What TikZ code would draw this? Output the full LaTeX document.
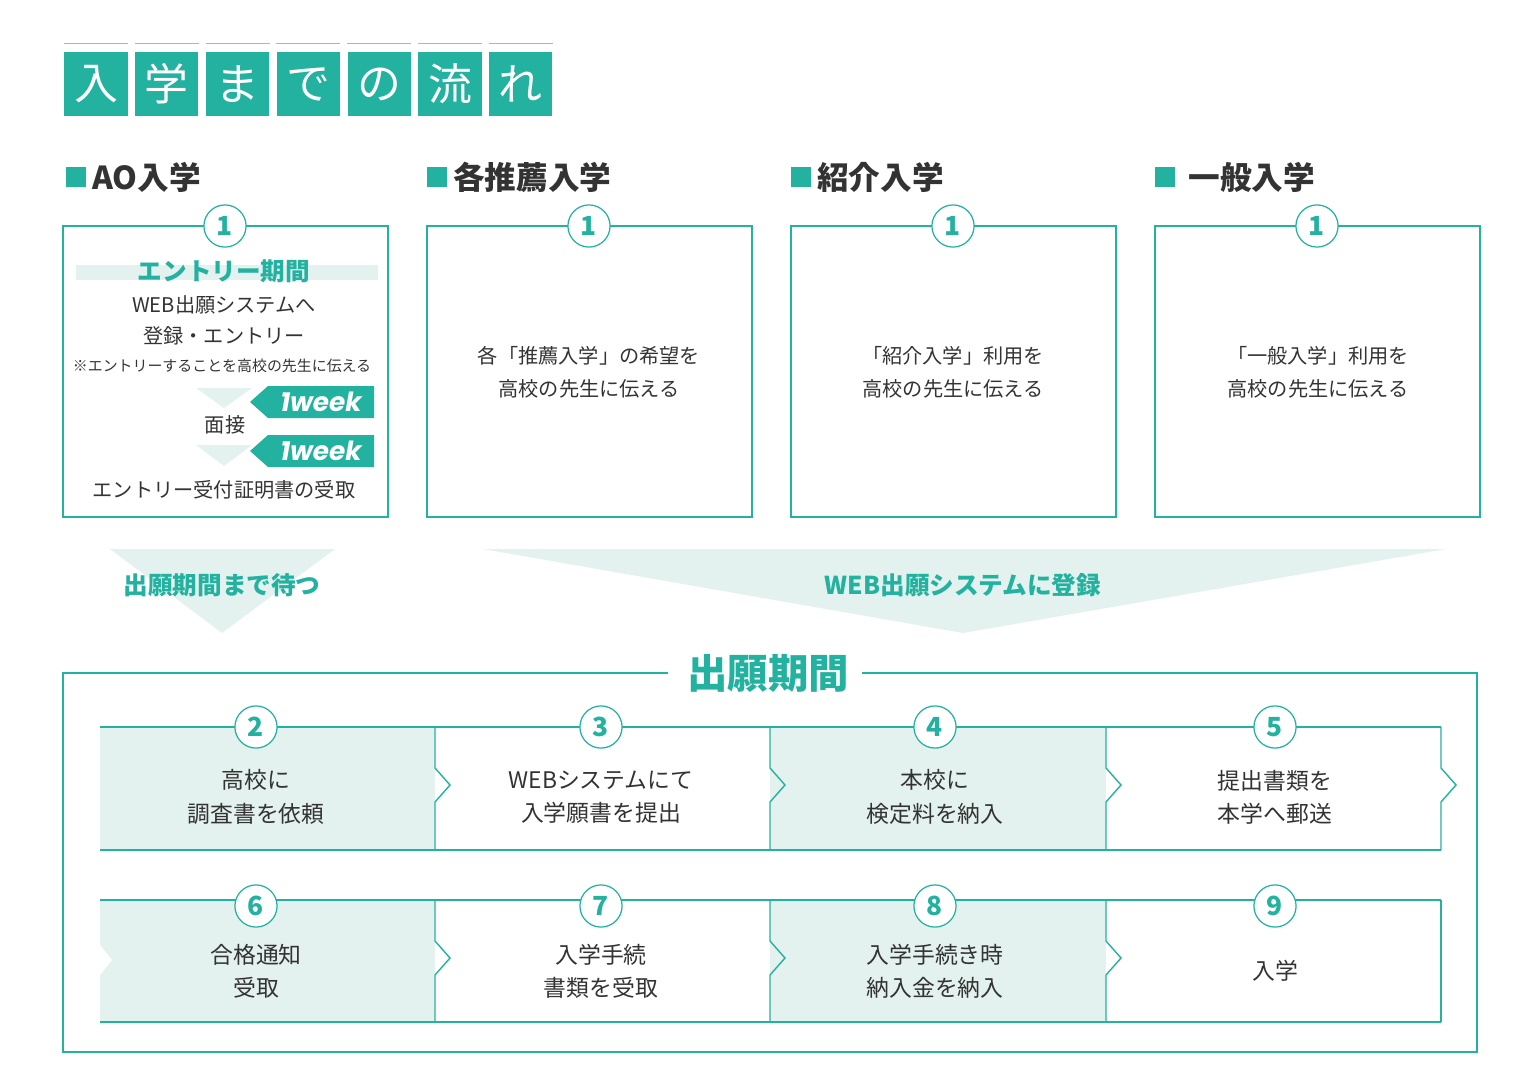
\documentclass[tikz,border=0pt]{standalone}
\usepackage{fontspec}
\setmainfont{Noto Sans CJK JP}
\newfontfamily\lat{Poppins}
\definecolor{teal}{HTML}{23B1A0}
\definecolor{pale}{HTML}{E3F2EE}
\definecolor{ink}{HTML}{333333}
\tikzset{
  num/.style={circle,draw=teal,fill=white,line width=0.7pt,minimum size=24pt,inner sep=0pt,
    text=teal,font=\fontsize{15}{15}\selectfont\bfseries\itshape},
  box/.style={draw=teal,line width=0.8pt},
  txt/.style={text=ink,align=center,font=\fontsize{11.5}{19}\selectfont},
  stxt/.style={text=ink,align=center,font=\fontsize{13}{19}\selectfont},
  head/.style={text=ink,anchor=west,font=\fontsize{18}{18}\selectfont\bfseries},
  tbox/.style={fill=teal,minimum width=36pt,minimum height=36pt,inner sep=0pt,text=white,
    font=\fontsize{25}{25}\selectfont},
  week/.style={text=white,font=\lat\fontsize{15}{15}\selectfont\bfseries\itshape},
  band/.style={text=teal,font=\fontsize{14}{14}\selectfont\bfseries}
}
\begin{document}
\begin{tikzpicture}[x=0.02cm,y=-0.02cm]
\useasboundingbox (0,0) rectangle (1531,1088);
% title
\foreach \c [count=\i from 0] in {入,学,ま,で,の,流,れ}{
  \node[tbox] (t\i) at (96+70.8*\i,84) {\c};
  \draw[gray!60,line width=0.5pt] (t\i.north west)++(0,-9) coordinate (a\i) -- ++(64,0);
}
% headings
\foreach \x/\n/\s in {66/h1/AO入学,427/h2/各推薦入学,791/h3/紹介入学,1155/h4/{\ 一般入学}}{
  \fill[teal] (\x,167) rectangle ++(20,20);
  \node[head] (\n) at (\x+20,177) {\s};
}
% four boxes
\foreach \x/\n in {63/b1,427/b2,791/b3,1155/b4}{
  \draw[box] (\x,226) rectangle ++(325,291);
  \node[num] (\n) at (\x+162,226) {1};
}
\node[txt] at (589,372) {各「推薦入学」の希望を\\高校の先生に伝える};
\node[txt] at (953,372) {「紹介入学」利用を\\高校の先生に伝える};
\node[txt] at (1318,372) {「一般入学」利用を\\高校の先生に伝える};
% AO details
\fill[pale] (76,265) rectangle (378,280);
\node[band] (ent) at (224,271) {エントリー期間};
\node[txt] (web) at (224,305) {WEB出願システムへ};
\node[txt] (reg) at (224,336) {登録・エントリー};
\node[text=ink,font=\fontsize{8.5}{9}\selectfont] (note) at (222,366) {※エントリーすることを高校の先生に伝える};
\fill[pale] (196,388) -- (252,388) -- (224,408) -- cycle;
\fill[pale] (196,445) -- (252,445) -- (224,466) -- cycle;
\node[txt] (itv) at (225,425) {面接};
\foreach \y/\n in {402/w1,451/w2}{
  \fill[teal] (250,\y) -- (268,\y-16) -- (374,\y-16) -- (374,\y+16) -- (268,\y+16) -- cycle;
  \node[week] (\n) at (321,\y) {1week};
}
\node[txt] (rcv) at (224,490) {エントリー受付証明書の受取};
% big arrows
\fill[pale] (110,549) -- (335,549) -- (222,633) -- cycle;
\fill[pale] (483,549) -- (1446,549) -- (963,633) -- cycle;
\node[band] (wait) at (222,585) {出願期間まで待つ};
\node[band] (regw) at (963,585) {WEB出願システムに登録};
% application period frame
\node[text=teal,font=\fontsize{23}{23}\selectfont\bfseries] (per) at (768,673) {出願期間};
\draw[box] (668,673) -- (63,673) -- (63,1052) -- (1477,1052) -- (1477,673) -- (862,673);
% steps
\fill[pale] (100,727) rectangle (435,850);
\fill[pale] (770,727) rectangle (1106,850);
\fill[pale] (100,900) rectangle (435,1022);
\fill[pale] (770,900) rectangle (1106,1022);
\fill[white] (100,945) -- (112,960) -- (100,975) -- cycle;
\foreach \t/\b in {727/850,900/1022}{
  \draw[box] (100,\t) -- (1441,\t) (100,\b) -- (1441,\b);
  \foreach \x in {435,770,1106}
    \draw[box] (\x,\t) -- (\x,\t+41) -- (\x+15,\t+58) -- (\x,\t+75) -- (\x,\b);
}
\draw[box] (1441,727) -- (1441,768) -- (1456,785) -- (1441,802) -- (1441,850);
\draw[box] (1441,900) -- (1441,1022);
\foreach \x/\n/\s in {256/2/{高校に\\調査書を依頼},601/3/{WEBシステムにて\\入学願書を提出},935/4/{本校に\\検定料を納入},1275/5/{提出書類を\\本学へ郵送}}{
  \node[num] (s\n) at (\x,727) {\n};
  \node[stxt] at (\x,797) {\s};
}
\foreach \x/\n/\s in {256/6/{合格通知\\受取},601/7/{入学手続\\書類を受取},935/8/{入学手続き時\\納入金を納入},1275/9/{入学}}{
  \node[num] (s\n) at (\x,906) {\n};
  \node[stxt] at (\x,971) {\s};
}
\end{tikzpicture}
\end{document}
